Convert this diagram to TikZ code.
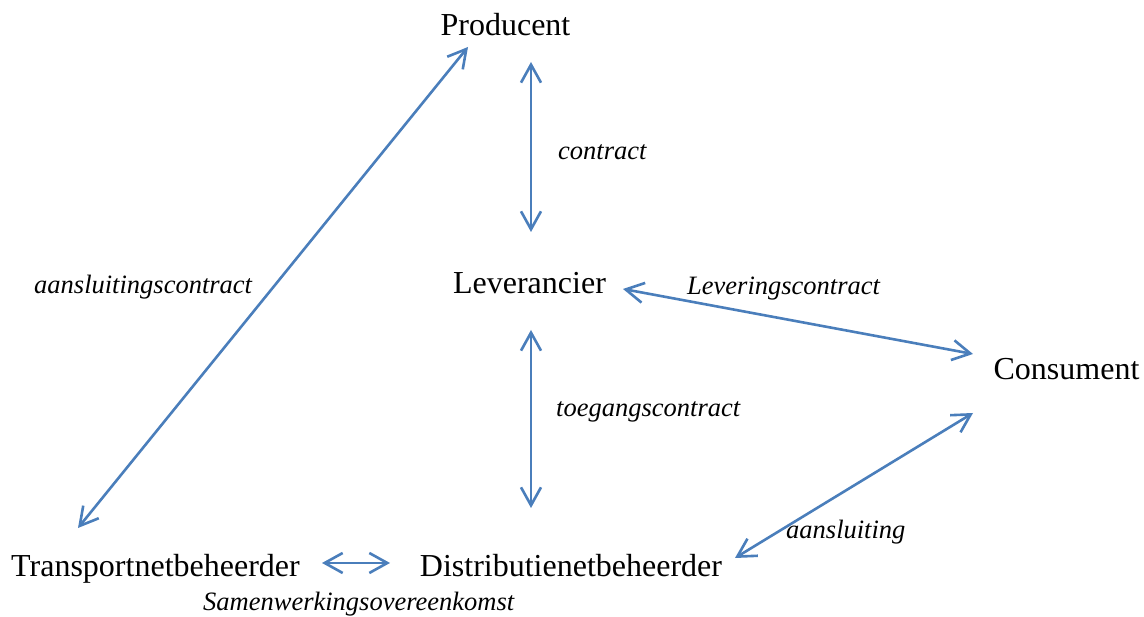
\documentclass[tikz,border=0pt]{standalone}
\usepackage{fontspec}
\setmainfont{Liberation Serif}
\usetikzlibrary{arrows.meta}
\definecolor{relblue}{HTML}{4A7EBB}

\begin{document}
\begin{tikzpicture}[x=1pt,y=1pt,
  party/.style={inner sep=0pt,anchor=base,font=\fontsize{32}{38}\selectfont},
  deal/.style={inner sep=0pt,anchor=base west,font=\fontsize{26.5}{32}\selectfont\itshape},
  link/.style={draw=relblue,line width=2.6pt,
    {Straight Barb[length=18pt,width=20pt]}-{Straight Barb[length=18pt,width=20pt]}}]
\useasboundingbox (0,0) rectangle (1144,617);

\node[party] (P) at (505.5,581) {Producent};
\node[party] (L) at (529.5,323) {Leverancier};
\node[party] (C) at (1066.5,237) {Consument};
\node[party] (T) at (155.5,40)  {Transportnetbeheerder};
\node[party] (D) at (571,40)    {Distributienetbeheerder};

\node[deal] (contract) at (558,457) {contract};
\node[deal] (toegang)  at (556,200) {toegangscontract};
\node[deal] (levering) at (687,322) {Leveringscontract};
\node[deal] (aansc)    at (34,323)  {aansluitingscontract};
\node[deal] (aans)     at (786,78)  {aansluiting};
\node[deal] (samen)    at (203,6)   {Samenwerkingsovereenkomst};

\draw[link] ([xshift=25.5pt,yshift=-26pt]P.base) -- ([xshift=1.5pt,yshift=62pt]L.base);
\draw[link] ([xshift=1.5pt,yshift=-36pt]L.base) -- ([xshift=-40pt,yshift=69pt]D.base);
\draw[link] ([xshift=93.5pt,yshift=5pt]L.base) -- ([xshift=-93.5pt,yshift=26pt]C.base);
\draw[link] ([xshift=164pt,yshift=19pt]D.base) -- ([xshift=-93.5pt,yshift=-33pt]C.base);
\draw[link] ([xshift=-77.5pt,yshift=49pt]T.base) -- ([xshift=-37.5pt,yshift=-11pt]P.base);
\draw[link] ([xshift=166.5pt,yshift=14pt]T.base) -- ([xshift=-181pt,yshift=14pt]D.base);
\end{tikzpicture}
\end{document}
